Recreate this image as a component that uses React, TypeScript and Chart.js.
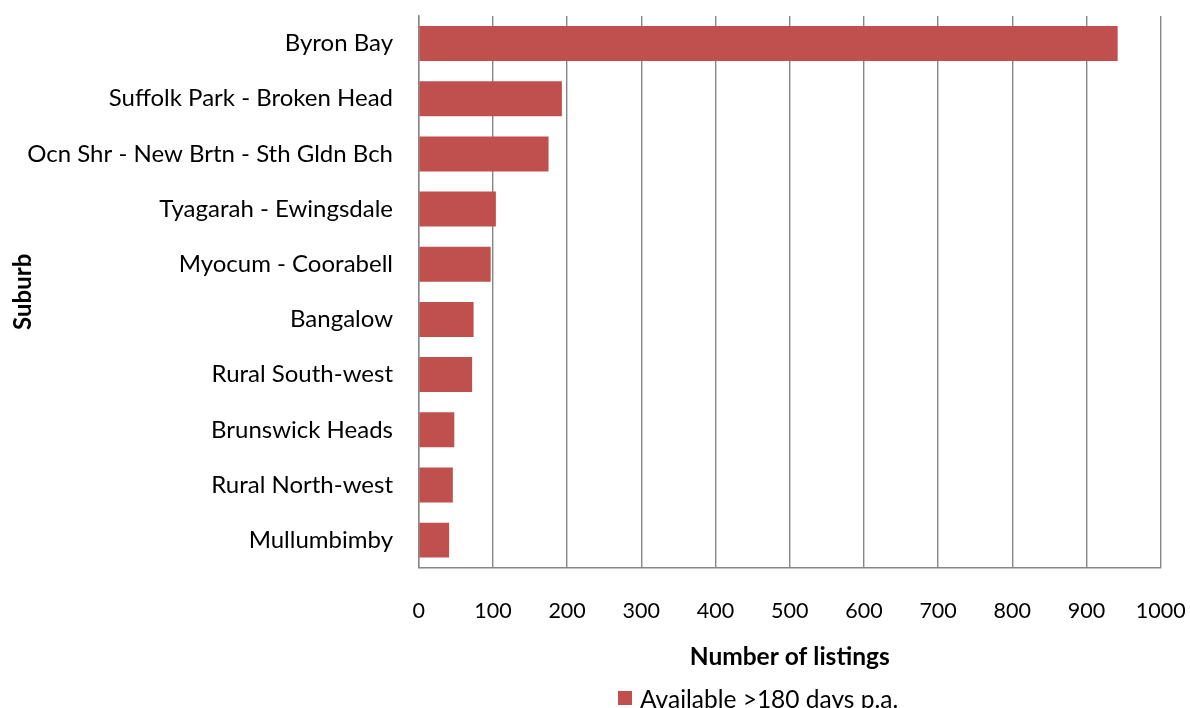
import { useEffect, useRef } from "react";
import { Chart, registerables } from "chart.js";

Chart.register(...registerables);

const categories = [
  "Byron Bay",
  "Suffolk Park - Broken Head",
  "Ocn Shr - New Brtn - Sth Gldn Bch",
  "Tyagarah - Ewingsdale",
  "Myocum - Coorabell",
  "Bangalow",
  "Rural South-west",
  "Brunswick Heads",
  "Rural North-west",
  "Mullumbimby",
];
const listings = [942, 193, 175, 104, 97, 74, 72, 48, 46, 41];
const seriesLabel = "Available >180 days p.a.";
const xAxisTitle = "Number of listings";
const yAxisTitle = "Suburb";
const xMin = 0;
const xMax = 1000;
const xStep = 100;

const FONT = "Lato, 'Open Sans', sans-serif";
const BAR = "#C0504D";
const GRID = "#868686";

const legendPlugin = {
  id: "bottomLegend",
  afterDraw(chart: any) {
    const ctx = chart.ctx;
    const ds = chart.data.datasets[0];
    ctx.save();
    ctx.fillStyle = ds.backgroundColor;
    ctx.fillRect(618, 691, 14, 14);
    ctx.fillStyle = "#000";
    ctx.font = `24.5px ${FONT}`;
    ctx.textBaseline = "middle";
    ctx.textAlign = "left";
    ctx.fillText(ds.label, 640, 700);
    ctx.restore();
  },
};

export default function App() {
  const ref = useRef<HTMLCanvasElement | null>(null);
  useEffect(() => {
    if (!ref.current) return;
    const chart = new Chart(ref.current, {
      type: "bar",
      data: {
        labels: categories,
        datasets: [
          {
            label: seriesLabel,
            data: listings,
            backgroundColor: BAR,
            borderWidth: 0,
            barPercentage: 0.634,
            categoryPercentage: 1,
          },
        ],
      },
      options: {
        indexAxis: "y",
        responsive: false,
        animation: false,
        devicePixelRatio: 1,
        layout: { padding: { top: 16, right: 29.3, left: 0, bottom: 0 } },
        plugins: {
          legend: { display: false },
          tooltip: { enabled: false },
        },
        scales: {
          x: {
            min: xMin,
            max: xMax,
            ticks: {
              stepSize: xStep,
              color: "#000",
              font: { family: FONT, size: 21.5 },
              padding: 30.5,
              maxRotation: 0,
              callback: (v: any) => String(v),
            },
            grid: { color: GRID, lineWidth: 1.4, drawTicks: false },
            border: { color: GRID, width: 1.4 },
            title: {
              display: true,
              text: xAxisTitle,
              color: "#000",
              font: { family: FONT, size: 24.5, weight: "bold" },
              padding: { top: 0, bottom: 36.3 },
            },
            afterFit: (s: any) => {
              s.height = 708 - 567.7;
              s.paddingLeft = 0;
              s.paddingRight = 0;
            },
          },
          y: {
            ticks: {
              color: "#000",
              font: { family: FONT, size: 24 },
              padding: 25.7,
            },
            grid: { display: false, drawTicks: false },
            border: { display: true, color: GRID, width: 1.4 },
            title: {
              display: true,
              text: yAxisTitle,
              color: "#000",
              font: { family: FONT, size: 24, weight: "bold" },
              padding: { top: 8.5, bottom: 0 },
            },
            afterFit: (s: any) => {
              s.width = 418.7;
              s.paddingTop = 0;
              s.paddingBottom = 0;
            },
          },
        },
      },
      plugins: [legendPlugin],
    } as any);
    return () => chart.destroy();
  }, []);
  return (
    <div style={{ position: "fixed", left: 0, top: 0, width: 1190, height: 708, background: "#fff" }}>
      <canvas ref={ref} width={1190} height={708} style={{ display: "block" }} />
    </div>
  );
}
